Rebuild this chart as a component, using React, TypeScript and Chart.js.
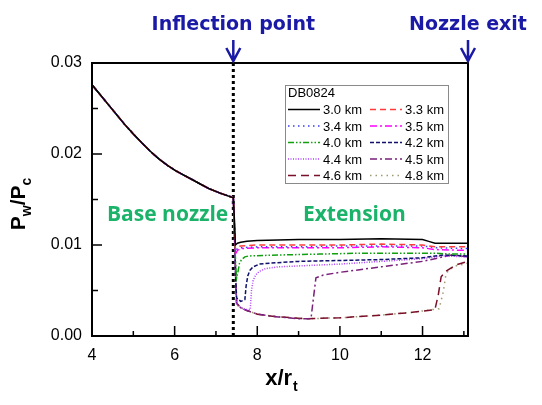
import React, { useEffect, useRef } from "react";
import { Chart, registerables } from "chart.js";

Chart.register(...registerables);

// ---- data ----
const baseX = [4.0, 4.2, 4.4, 4.6, 4.8, 5.0, 5.21, 5.41, 5.61, 5.81, 6.01, 6.21, 6.42, 6.62, 6.83, 7.1, 7.42];
const baseY = [0.0276, 0.0265, 0.0254, 0.0243, 0.0232, 0.0222, 0.0212, 0.0203, 0.0195, 0.0188, 0.0182, 0.0177, 0.0172, 0.0167, 0.0162, 0.0157, 0.0152];

const seriesLabels = ["3.0 km", "3.3 km", "3.4 km", "3.5 km", "4.0 km", "4.2 km", "4.4 km", "4.5 km", "4.6 km", "4.8 km"];

const ext30X = [7.45, 7.47, 7.52, 7.6, 7.75, 8.0, 9.0, 10.0, 11.0, 12.0, 12.15, 12.3, 13.1];
const ext30Y = [0.0125, 0.0100, 0.0102, 0.0103, 0.0104, 0.0105, 0.0106, 0.0106, 0.0107, 0.0106, 0.0104, 0.0102, 0.0102];

const ext33X = [7.45, 7.47, 7.52, 7.6, 8.0, 9.0, 10.0, 11.0, 12.0, 12.3, 13.1];
const ext33Y = [0.0120, 0.0096, 0.0098, 0.0099, 0.0100, 0.0100, 0.0100, 0.0101, 0.0100, 0.0098, 0.0098];

const ext34X = [7.45, 7.47, 7.52, 7.6, 8.0, 9.0, 10.0, 11.0, 12.0, 12.3, 13.1];
const ext34Y = [0.0118, 0.0093, 0.0096, 0.0097, 0.0098, 0.0098, 0.0099, 0.0099, 0.0099, 0.0097, 0.0096];

const ext35X = [7.45, 7.47, 7.52, 7.6, 8.0, 9.0, 10.0, 11.0, 12.0, 12.3, 13.1];
const ext35Y = [0.0115, 0.0090, 0.0094, 0.0096, 0.0097, 0.0097, 0.0097, 0.0098, 0.0097, 0.0095, 0.0094];

const ext40X = [7.45, 7.48, 7.5, 7.53, 7.57, 7.62, 7.7, 7.8, 8.5, 9.5, 10.5, 11.5, 12.3, 12.7, 13.1];
const ext40Y = [0.0110, 0.0075, 0.0064, 0.0070, 0.0080, 0.0084, 0.0087, 0.0088, 0.0089, 0.0090, 0.0091, 0.0091, 0.0091, 0.0090, 0.0090];

const ext42X = [7.45, 7.48, 7.5, 7.6, 7.7, 7.73, 7.77, 7.82, 7.9, 8.05, 8.3, 9.0, 10.0, 11.0, 12.0, 12.5, 13.1];
const ext42Y = [0.0110, 0.0060, 0.0042, 0.0038, 0.0040, 0.0055, 0.0066, 0.0072, 0.0076, 0.0079, 0.0080, 0.0082, 0.0083, 0.0084, 0.0086, 0.0089, 0.0088];

const ext44X = [7.45, 7.48, 7.5, 7.7, 7.83, 7.86, 7.9, 7.96, 8.05, 8.2, 8.5, 9.0, 10.0, 11.0, 12.0, 12.5, 13.1];
const ext44Y = [0.0110, 0.0060, 0.0034, 0.0029, 0.0029, 0.0050, 0.0061, 0.0067, 0.0071, 0.0074, 0.0076, 0.0077, 0.0079, 0.0082, 0.0085, 0.0088, 0.0087];

const ext45X = [7.45, 7.48, 7.5, 7.6, 7.75, 8.0, 8.5, 9.0, 9.3, 9.36, 9.42, 9.6, 10.0, 11.0, 12.0, 12.7, 13.1];
const ext45Y = [0.0110, 0.0060, 0.0036, 0.0031, 0.0028, 0.0024, 0.0021, 0.0019, 0.0019, 0.0042, 0.0064, 0.0067, 0.0070, 0.0076, 0.0082, 0.0089, 0.0087];

const ext46X = [7.45, 7.48, 7.5, 7.6, 7.75, 8.0, 8.5, 9.2, 10.0, 11.0, 11.75, 12.3, 12.38, 12.45, 12.56, 12.8, 13.1];
const ext46Y = [0.0110, 0.0060, 0.0036, 0.0031, 0.0028, 0.0024, 0.0021, 0.0019, 0.0020, 0.0023, 0.0026, 0.0029, 0.0045, 0.0065, 0.0071, 0.0078, 0.0082];

const ext48X = [7.45, 7.48, 7.5, 7.6, 7.75, 8.0, 8.5, 9.2, 10.0, 11.0, 11.75, 12.4, 12.5, 12.56, 12.62, 12.8, 13.1];
const ext48Y = [0.0110, 0.0060, 0.0036, 0.0031, 0.0028, 0.0024, 0.0021, 0.0019, 0.0020, 0.0023, 0.0026, 0.0030, 0.0048, 0.0066, 0.0072, 0.0077, 0.0080];

const extX = [ext30X, ext33X, ext34X, ext35X, ext40X, ext42X, ext44X, ext45X, ext46X, ext48X];
const extY = [ext30Y, ext33Y, ext34Y, ext35Y, ext40Y, ext42Y, ext44Y, ext45Y, ext46Y, ext48Y];

const inflectionX = 7.42;
const exitX = 13.1;
const xMin = 4, xMax = 13.1, xStep = 2;
const yMin = 0, yMax = 0.03, yStep = 0.01;

// ---- styles ----
const seriesColors = ["#000000", "#ff3b3b", "#3b3bff", "#ff00ff", "#10a010", "#10106e", "#b040ff", "#7a1f7a", "#7a0f2a", "#a09a70"];
const seriesDashes: number[][] = [[], [6, 4], [1.5, 3.5], [7, 3, 2, 3], [6, 2, 1.5, 2, 1.5, 2], [4, 2], [1, 1.5], [7, 3, 2, 3], [8, 5], [1.5, 4]];

const BLUE = "#1a1aa6";
const GREEN = "#1bb36a";

const overlayPlugin = {
  id: "overlay",
  afterDatasetsDraw(chart: any) {
    const { ctx, chartArea: ca, scales } = chart;
    const xs = scales.x, ys = scales.y;
    ctx.save();
    // frame
    ctx.strokeStyle = "#000";
    ctx.lineWidth = 2;
    ctx.setLineDash([]);
    ctx.strokeRect(ca.left, ca.top, ca.right - ca.left, ca.bottom - ca.top);
    // inward ticks
    ctx.lineWidth = 1.5;
    ctx.beginPath();
    xs.ticks.forEach((t: any) => {
      const p = xs.getPixelForValue(t.value);
      ctx.moveTo(p, ca.bottom);
      ctx.lineTo(p, ca.bottom - 10);
      const m = t.value + xStep / 2;
      if (m <= xMax) {
        const pm = xs.getPixelForValue(m);
        ctx.moveTo(pm, ca.bottom);
        ctx.lineTo(pm, ca.bottom - 5);
      }
    });
    ys.ticks.forEach((t: any) => {
      const p = ys.getPixelForValue(t.value);
      ctx.moveTo(ca.left, p);
      ctx.lineTo(ca.left + 10, p);
      const m = t.value + yStep / 2;
      if (m < yMax) {
        const pm = ys.getPixelForValue(m);
        ctx.moveTo(ca.left, pm);
        ctx.lineTo(ca.left + 6, pm);
      }
    });
    ctx.stroke();

    // region labels
    ctx.fillStyle = GREEN;
    ctx.font = "bold 21px 'Open Sans'";
    ctx.textAlign = "center";
    ctx.textBaseline = "alphabetic";
    ctx.fillText("Base nozzle", xs.getPixelForValue(5.83), ys.getPixelForValue(0.01264));
    ctx.fillText("Extension", xs.getPixelForValue(10.35), ys.getPixelForValue(0.01264));

    // top annotations with arrows
    ctx.fillStyle = BLUE;
    ctx.strokeStyle = BLUE;
    ctx.font = "bold 19px 'DejaVu Sans'";
    const tops: [string, number][] = [["Inflection point", inflectionX], ["Nozzle exit", exitX]];
    tops.forEach(([txt, v]) => {
      const px = xs.getPixelForValue(v);
      ctx.fillText(txt, px, ca.top - 33);
      ctx.lineWidth = 2.5;
      ctx.beginPath();
      ctx.moveTo(px, ca.top - 23);
      ctx.lineTo(px, ca.top - 2);
      ctx.moveTo(px - 7, ca.top - 15);
      ctx.lineTo(px, ca.top - 2);
      ctx.lineTo(px + 7, ca.top - 15);
      ctx.stroke();
    });

    // axis titles
    ctx.fillStyle = "#000";
    ctx.textAlign = "left";
    const big = "bold 22px 'Liberation Sans'";
    const small = "bold 14px 'Liberation Sans'";
    ctx.font = big;
    const wx = ctx.measureText("x/r").width;
    ctx.font = small;
    const wt = ctx.measureText("t").width;
    const cx = (ca.left + ca.right) / 2 + 1;
    const sx = cx - (wx + wt) / 2;
    ctx.font = big;
    ctx.fillText("x/r", sx, 385);
    ctx.font = small;
    ctx.fillText("t", sx + wx + 1, 391);

    ctx.save();
    ctx.translate(25, 204);
    ctx.rotate(-Math.PI / 2);
    const bigY = "bold 21px 'Liberation Sans'";
    const smallY = "bold 14px 'Liberation Sans'";
    const parts: [string, boolean][] = [["P", false], ["w", true], ["/", false], ["P", false], ["c", true]];
    let total = 0;
    parts.forEach(([s, sub]) => {
      ctx.font = sub ? smallY : bigY;
      total += ctx.measureText(s).width;
    });
    let tx = -total / 2;
    parts.forEach(([s, sub]) => {
      ctx.font = sub ? smallY : bigY;
      ctx.fillText(s, tx, sub ? 6 : 0);
      tx += ctx.measureText(s).width;
    });
    ctx.restore();

    // legend box
    const lx = ca.left + 193, ly = ca.top + 22, lw = 163, lh = 98;
    ctx.strokeStyle = "#8a8a8a";
    ctx.lineWidth = 1;
    ctx.strokeRect(lx + 0.5, ly + 0.5, lw, lh);
    ctx.fillStyle = "#000";
    ctx.font = "13px 'Liberation Sans'";
    ctx.textBaseline = "middle";
    ctx.fillText("DB0824", lx + 3, ly + 8);
    const dsets = chart.data.datasets.filter((d: any) => !d.isGuide);
    dsets.forEach((d: any, i: number) => {
      const row = Math.floor(i / 2), col = i % 2;
      const yy = ly + 24.5 + row * 16.5;
      const x0 = lx + 3 + col * 82;
      ctx.strokeStyle = d.borderColor;
      ctx.lineWidth = 1.5;
      ctx.setLineDash(d.borderDash || []);
      ctx.beginPath();
      ctx.moveTo(x0, yy);
      ctx.lineTo(x0 + 32, yy);
      ctx.stroke();
      ctx.setLineDash([]);
      ctx.fillStyle = "#000";
      ctx.fillText(d.label, x0 + 35, yy + 1);
    });
    ctx.restore();
  },
};

export default function App() {
  const ref = useRef<HTMLCanvasElement | null>(null);
  useEffect(() => {
    if (!ref.current) return;
    const datasets: any[] = seriesLabels.map((label, i) => ({
      label,
      data: baseX.map((x, k) => ({ x, y: baseY[k] })).concat(extX[i].map((x, k) => ({ x, y: extY[i][k] }))),
      borderColor: seriesColors[i],
      borderDash: seriesDashes[i],
      borderWidth: 1.5,
      pointRadius: 0,
      fill: false,
      tension: 0,
    }));
    datasets.push({
      label: "inflection",
      isGuide: true,
      data: [{ x: inflectionX, y: yMin }, { x: inflectionX, y: yMax }],
      borderColor: "#000",
      borderDash: [3, 3],
      borderWidth: 3,
      pointRadius: 0,
      tension: 0,
    });
    const chart = new Chart(ref.current, {
      type: "line",
      data: { datasets },
      options: {
        responsive: false,
        animation: false,
        devicePixelRatio: 1,
        layout: { padding: { top: 63, right: 74, left: 0, bottom: 0 } },
        plugins: { legend: { display: false }, tooltip: { enabled: false } },
        scales: {
          x: {
            type: "linear",
            min: xMin,
            max: xMax,
            grid: { display: false, drawTicks: false },
            border: { display: false },
            ticks: {
              stepSize: xStep,
              includeBounds: false,
              padding: 10,
              color: "#000",
              font: { family: "'Liberation Sans'", size: 16 },
              callback: (v: any) => String(Math.round(v)),
              maxRotation: 0,
            },
            afterFit: (s: any) => { s.height = 69; },
          },
          y: {
            type: "linear",
            min: yMin,
            max: yMax,
            grid: { display: false, drawTicks: false },
            border: { display: false },
            ticks: {
              stepSize: yStep,
              includeBounds: false,
              padding: 10,
              color: "#000",
              font: { family: "'Liberation Sans'", size: 16 },
              callback: (v: any) => Number(v).toFixed(2),
            },
            afterFit: (s: any) => { s.width = 92; },
          },
        },
      } as any,
      plugins: [overlayPlugin],
    });
    return () => chart.destroy();
  }, []);
  return (
    <div style={{ position: "fixed", left: 0, top: 0, width: 542, height: 405, background: "#fff" }}>
      <canvas ref={ref} width={542} height={405} />
    </div>
  );
}
